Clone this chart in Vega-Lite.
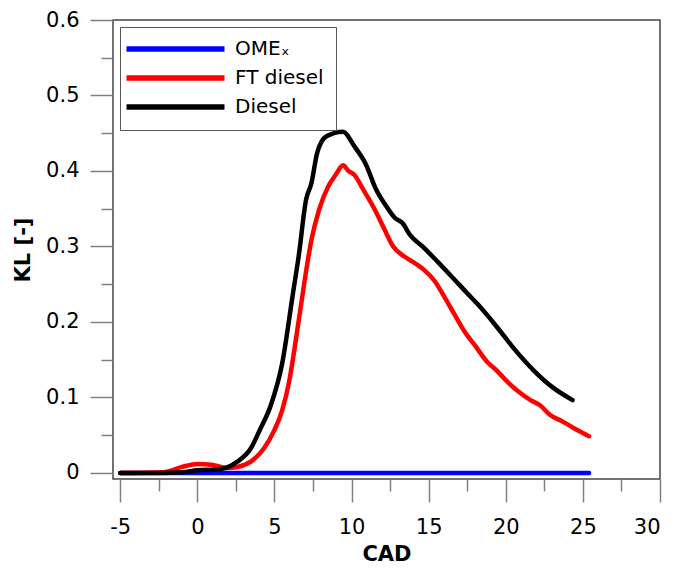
{
  "$schema": "https://vega.github.io/schema/vega-lite/v6.json",
  "width": 547,
  "height": 459,
  "autosize": "none",
  "padding": {"left": 113, "top": 20, "right": 16, "bottom": 89},
  "background": "white",
  "config": {
    "font": "DejaVu Sans",
    "view": {"stroke": "#444444", "strokeWidth": 1.5},
    "axis": {"domain": false, "grid": false, "tickColor": "#808080", "tickWidth": 1.5, "labelFont": "DejaVu Sans", "labelFontSize": 21, "labelColor": "#000", "titleFont": "DejaVu Sans", "titleFontSize": 21, "titleFontWeight": "bold", "titleColor": "#000"}
  },
  "data": {"values": [
    {"series": "OMEₓ", "cad": -5, "kl": 0},
    {"series": "OMEₓ", "cad": 0, "kl": 0},
    {"series": "OMEₓ", "cad": 5, "kl": 0},
    {"series": "OMEₓ", "cad": 10, "kl": 0},
    {"series": "OMEₓ", "cad": 15, "kl": 0},
    {"series": "OMEₓ", "cad": 20, "kl": 0},
    {"series": "OMEₓ", "cad": 25.4, "kl": 0},
    {"series": "FT diesel", "cad": -5, "kl": 0},
    {"series": "FT diesel", "cad": -2.2, "kl": 0.001},
    {"series": "FT diesel", "cad": -1, "kl": 0.008},
    {"series": "FT diesel", "cad": 0, "kl": 0.012},
    {"series": "FT diesel", "cad": 0.9, "kl": 0.011},
    {"series": "FT diesel", "cad": 1.9, "kl": 0.0066},
    {"series": "FT diesel", "cad": 2.6, "kl": 0.008},
    {"series": "FT diesel", "cad": 3.6, "kl": 0.017},
    {"series": "FT diesel", "cad": 4.3, "kl": 0.032},
    {"series": "FT diesel", "cad": 5.0, "kl": 0.057},
    {"series": "FT diesel", "cad": 5.5, "kl": 0.083},
    {"series": "FT diesel", "cad": 5.97, "kl": 0.123},
    {"series": "FT diesel", "cad": 6.45, "kl": 0.185},
    {"series": "FT diesel", "cad": 6.93, "kl": 0.251},
    {"series": "FT diesel", "cad": 7.4, "kl": 0.309},
    {"series": "FT diesel", "cad": 7.9, "kl": 0.349},
    {"series": "FT diesel", "cad": 8.5, "kl": 0.38},
    {"series": "FT diesel", "cad": 8.97, "kl": 0.395},
    {"series": "FT diesel", "cad": 9.45, "kl": 0.4075},
    {"series": "FT diesel", "cad": 9.8, "kl": 0.4},
    {"series": "FT diesel", "cad": 10.17, "kl": 0.395},
    {"series": "FT diesel", "cad": 10.77, "kl": 0.375},
    {"series": "FT diesel", "cad": 11.5, "kl": 0.349},
    {"series": "FT diesel", "cad": 12.1, "kl": 0.324},
    {"series": "FT diesel", "cad": 12.7, "kl": 0.3},
    {"series": "FT diesel", "cad": 13.4, "kl": 0.287},
    {"series": "FT diesel", "cad": 14.1, "kl": 0.278},
    {"series": "FT diesel", "cad": 14.7, "kl": 0.269},
    {"series": "FT diesel", "cad": 15.4, "kl": 0.254},
    {"series": "FT diesel", "cad": 16.0, "kl": 0.234},
    {"series": "FT diesel", "cad": 16.7, "kl": 0.209},
    {"series": "FT diesel", "cad": 17.4, "kl": 0.185},
    {"series": "FT diesel", "cad": 18.0, "kl": 0.169},
    {"series": "FT diesel", "cad": 18.8, "kl": 0.147},
    {"series": "FT diesel", "cad": 19.4, "kl": 0.136},
    {"series": "FT diesel", "cad": 20.0, "kl": 0.123},
    {"series": "FT diesel", "cad": 20.84, "kl": 0.1075},
    {"series": "FT diesel", "cad": 21.6, "kl": 0.0965},
    {"series": "FT diesel", "cad": 22.2, "kl": 0.09},
    {"series": "FT diesel", "cad": 22.9, "kl": 0.0765},
    {"series": "FT diesel", "cad": 23.7, "kl": 0.068},
    {"series": "FT diesel", "cad": 24.45, "kl": 0.059},
    {"series": "FT diesel", "cad": 25.4, "kl": 0.0487},
    {"series": "Diesel", "cad": -5, "kl": 0},
    {"series": "Diesel", "cad": -2.5, "kl": 0},
    {"series": "Diesel", "cad": -1, "kl": 0.001},
    {"series": "Diesel", "cad": 0, "kl": 0.0035},
    {"series": "Diesel", "cad": 1.4, "kl": 0.005},
    {"series": "Diesel", "cad": 1.9, "kl": 0.007},
    {"series": "Diesel", "cad": 2.6, "kl": 0.015},
    {"series": "Diesel", "cad": 3.45, "kl": 0.032},
    {"series": "Diesel", "cad": 4.05, "kl": 0.057},
    {"series": "Diesel", "cad": 4.77, "kl": 0.09},
    {"series": "Diesel", "cad": 5.5, "kl": 0.145},
    {"series": "Diesel", "cad": 6.2, "kl": 0.238},
    {"series": "Diesel", "cad": 6.57, "kl": 0.287},
    {"series": "Diesel", "cad": 7.05, "kl": 0.362},
    {"series": "Diesel", "cad": 7.4, "kl": 0.384},
    {"series": "Diesel", "cad": 7.77, "kl": 0.424},
    {"series": "Diesel", "cad": 8.37, "kl": 0.446},
    {"series": "Diesel", "cad": 9.45, "kl": 0.452},
    {"series": "Diesel", "cad": 10.17, "kl": 0.433},
    {"series": "Diesel", "cad": 10.9, "kl": 0.41},
    {"series": "Diesel", "cad": 11.6, "kl": 0.375},
    {"series": "Diesel", "cad": 12.33, "kl": 0.351},
    {"series": "Diesel", "cad": 12.8, "kl": 0.338},
    {"series": "Diesel", "cad": 13.3, "kl": 0.331},
    {"series": "Diesel", "cad": 13.8, "kl": 0.315},
    {"series": "Diesel", "cad": 14.6, "kl": 0.3},
    {"series": "Diesel", "cad": 15.57, "kl": 0.28},
    {"series": "Diesel", "cad": 16.5, "kl": 0.26},
    {"series": "Diesel", "cad": 17.5, "kl": 0.238},
    {"series": "Diesel", "cad": 18.2, "kl": 0.223},
    {"series": "Diesel", "cad": 19.4, "kl": 0.194},
    {"series": "Diesel", "cad": 20.6, "kl": 0.163},
    {"series": "Diesel", "cad": 21.8, "kl": 0.136},
    {"series": "Diesel", "cad": 23.0, "kl": 0.114},
    {"series": "Diesel", "cad": 24.33, "kl": 0.0965}
  ]},
  "mark": {"type": "line", "strokeWidth": 4.5, "strokeCap": "round", "strokeJoin": "round", "interpolate": "monotone", "clip": true},
  "encoding": {
    "x": {
      "field": "cad", "type": "quantitative",
      "scale": {"domain": [-5.47, 30], "nice": false, "zero": false},
      "axis": {
        "title": "CAD",
        "values": [-5, -2.5, 0, 2.5, 5, 7.5, 10, 12.5, 15, 17.5, 20, 22.5, 25, 27.5, 30],
        "labelExpr": "datum.value % 5 === 0 ? replace(datum.label, '−', '-') : ''",
        "tickSize": {"condition": {"test": "datum.value % 5 === 0", "value": 23}, "value": 12},
        "labelPadding": 14,
        "titlePadding": 6
      }
    },
    "y": {
      "field": "kl", "type": "quantitative",
      "scale": {"domain": [-0.008, 0.6], "nice": false, "zero": false},
      "axis": {
        "title": "KL [-]",
        "values": [0, 0.05, 0.1, 0.15, 0.2, 0.25, 0.3, 0.35, 0.4, 0.45, 0.5, 0.55, 0.6],
        "labelExpr": "round(datum.value * 100) % 10 === 0 ? (datum.value === 0 ? '0' : format(datum.value, '.1f')) : ''",
        "tickSize": {"condition": {"test": "round(datum.value * 100) % 10 === 0", "value": 23}, "value": 12},
        "labelPadding": 11,
        "titlePadding": 12
      }
    },
    "color": {
      "field": "series", "type": "nominal",
      "scale": {"domain": ["OMEₓ", "FT diesel", "Diesel"], "range": ["#0000ff", "#ff0000", "#000000"]},
      "legend": {
        "title": null,
        "orient": "none",
        "legendX": 7,
        "legendY": 7,
        "symbolType": "M-6.2,0H33",
        "symbolSize": 25,
        "symbolStrokeWidth": 5.5,
        "labelFontSize": 20,
        "labelFont": "DejaVu Sans",
        "labelColor": "#000",
        "labelOffset": 83,
        "rowPadding": 7,
        "padding": 12,
        "strokeColor": "#555555",
        "fillColor": "white"
      }
    }
  }
}
